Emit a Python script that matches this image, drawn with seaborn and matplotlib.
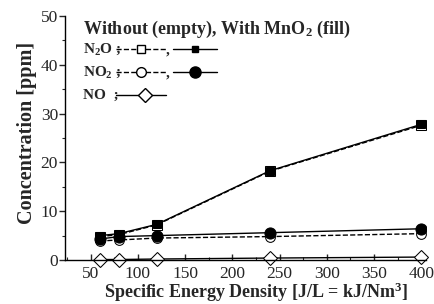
import matplotlib
matplotlib.use("Agg")
import matplotlib.pyplot as plt
import seaborn as sns
import numpy as np
import pandas as pd
from matplotlib.lines import Line2D
from matplotlib.ticker import MultipleLocator

sns.set_style("ticks")
plt.rcParams['font.family'] = ['Liberation Serif', 'DejaVu Serif']
plt.rcParams['mathtext.fontset'] = 'custom'
plt.rcParams['mathtext.rm'] = 'Liberation Serif:bold'
plt.rcParams['mathtext.it'] = 'Liberation Serif:bold'
plt.rcParams['mathtext.bf'] = 'Liberation Serif:bold'

# data
energy = [60, 80, 120, 240, 400]
n2o_empty = [4.8, 5.2, 7.2, 18.2, 27.6]
n2o_fill = [5.0, 5.4, 7.3, 18.3, 27.8]
no2_empty = [3.9, 4.1, 4.5, 4.8, 5.4]
no2_fill = [4.3, 4.8, 5.0, 5.6, 6.4]
no_vals = [0.1, 0.1, 0.2, 0.4, 0.6]

W, H = 434, 304
fig = plt.figure(figsize=(W / 100, H / 100), dpi=100)
ax = fig.add_axes([65 / W, 1 - 260 / H, 361 / W, (260 - 16) / H])

common = dict(color='black', lw=1.0, ax=ax, legend=False)
sns.lineplot(x=energy, y=n2o_empty, marker='s', markersize=7, linestyle='--',
             markerfacecolor='white', markeredgecolor='black', **common)
sns.lineplot(x=energy, y=no2_empty, marker='o', markersize=7, linestyle='--',
             markerfacecolor='white', markeredgecolor='black', **common)
sns.lineplot(x=energy, y=n2o_fill, marker='s', markersize=6, linestyle='-',
             markerfacecolor='black', markeredgecolor='black', **common)
sns.lineplot(x=energy, y=no2_fill, marker='o', markersize=8, linestyle='-',
             markerfacecolor='black', markeredgecolor='black', **common)
sns.lineplot(x=energy, y=no_vals, marker='D', markersize=7, linestyle='-',
             markerfacecolor='white', markeredgecolor='black', clip_on=False, **common)

ax.set_xlim(23, 405)
ax.set_ylim(0, 50)
ax.xaxis.set_minor_locator(MultipleLocator(25))
ax.yaxis.set_major_locator(MultipleLocator(10))
ax.yaxis.set_minor_locator(MultipleLocator(5))
ax.set_xticks([50, 100, 150, 200, 250, 300, 350, 400])
ax.tick_params(axis='x', which='major', direction='in', length=4, width=1, labelsize=12.5, pad=4)
ax.tick_params(axis='x', which='minor', direction='in', length=2, width=0.8)
ax.tick_params(axis='y', which='major', direction='out', length=4, width=1, labelsize=12.5, pad=1)
ax.tick_params(axis='y', which='minor', direction='out', length=2, width=0.8)
sns.despine(ax=ax)
for s in ['left', 'bottom']:
    ax.spines[s].set_color('black')
    ax.spines[s].set_linewidth(1.0)

ax.set_xlabel('Specific Energy Density [J/L = kJ/Nm$^3$]', fontsize=13, fontweight='bold')
ax.xaxis.set_label_coords((256 - 65) / 361, -(292 - 260) / 244)
ax.xaxis.label.set_va('center')
ax.set_ylabel('Concentration [ppm]', fontsize=14.5, fontweight='bold')
ax.yaxis.set_label_coords(-(65 - 27) / 361, (260 - 133) / 244)
ax.yaxis.label.set_va('center')

# legend drawn as text + sample lines (figure pixel coords)
def fx(px):
    return px / W

def fy(py):
    return 1 - py / H

fs = 11
fig.text(fx(83), fy(29), 'Without (empty), With MnO$_2$ (fill)', fontsize=13,
         fontweight='bold', va='center', ha='left')

def sample(x0, x1, yy, ls, marker, mfc, ms, mx=None):
    ln = Line2D([fx(x0), fx(x1)], [fy(yy), fy(yy)], transform=fig.transFigure,
                color='black', lw=1.0, linestyle=ls)
    fig.add_artist(ln)
    if mx is None:
        mx = (x0 + x1) / 2
    mk = Line2D([fx(mx)], [fy(yy)], transform=fig.transFigure, marker=marker,
                markersize=ms, markerfacecolor=mfc, markeredgecolor='black',
                linestyle='none')
    fig.add_artist(mk)

rows = [(49, 'N$_2$O ;', 's', 's', 6, 5),
        (72, 'NO$_2$ ;', 'o', 'o', 7, 8),
        (95, 'NO  ;', None, 'D', 7, None)]
for yy, lab, m_empty, m_fill, ms_e, ms_f in rows:
    fig.text(fx(83), fy(yy), lab, fontsize=fs, fontweight='bold', va='center', ha='left')
    if m_empty is not None:
        sample(116, 166, yy, '--', m_empty, 'white', ms_e, mx=141)
        fig.text(fx(166), fy(yy + 1), ',', fontsize=fs, fontweight='bold', va='center', ha='left')
        sample(173, 217, yy, '-', m_fill, 'black', ms_f, mx=195)
    else:
        sample(116, 166, yy, '-', m_fill, 'white', ms_e, mx=145)

fig.savefig('out.png', dpi=100)
